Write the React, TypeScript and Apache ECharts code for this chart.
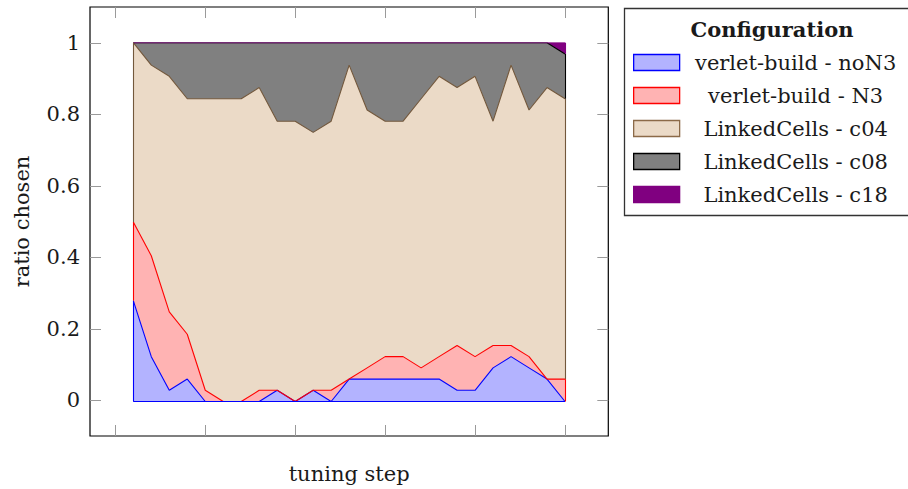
import React, { useEffect, useRef } from "react";
import * as echarts from "echarts";

const steps = ["1", "2", "3", "4", "5", "6", "7", "8", "9", "10", "11", "12", "13", "14", "15", "16", "17", "18", "19", "20", "21", "22", "23", "24", "25"];
const xTicks = [0, 5, 10, 15, 20, 25];
const yTicks = [0, 0.2, 0.4, 0.6, 0.8, 1];

const seriesNames = [
  "verlet-build - noN3",
  "verlet-build - N3",
  "LinkedCells - c04",
  "LinkedCells - c08",
  "LinkedCells - c18",
];

const noN3 = [0.28125, 0.125, 0.03125, 0.0625, 0, 0, 0, 0, 0.03125, 0, 0.03125, 0, 0.0625, 0.0625, 0.0625, 0.0625, 0.0625, 0.0625, 0.03125, 0.03125, 0.09375, 0.125, 0.09375, 0.0625, 0];
const n3 = [0.21875, 0.28125, 0.21875, 0.125, 0.03125, 0, 0, 0.03125, 0, 0, 0, 0.03125, 0, 0.03125, 0.0625, 0.0625, 0.03125, 0.0625, 0.125, 0.09375, 0.0625, 0.03125, 0.03125, 0, 0.0625];
const c04 = [0.5, 0.53125, 0.65625, 0.65625, 0.8125, 0.84375, 0.84375, 0.84375, 0.75, 0.78125, 0.71875, 0.75, 0.875, 0.71875, 0.65625, 0.65625, 0.75, 0.78125, 0.71875, 0.78125, 0.625, 0.78125, 0.6875, 0.8125, 0.78125];
const c08 = [0, 0.0625, 0.09375, 0.15625, 0.15625, 0.15625, 0.15625, 0.125, 0.21875, 0.21875, 0.25, 0.21875, 0.0625, 0.1875, 0.21875, 0.21875, 0.15625, 0.09375, 0.125, 0.09375, 0.21875, 0.0625, 0.1875, 0.125, 0.125];
const c18 = [0, 0, 0, 0, 0, 0, 0, 0, 0, 0, 0, 0, 0, 0, 0, 0, 0, 0, 0, 0, 0, 0, 0, 0, 0.03125];

const allData = [noN3, n3, c04, c08, c18];
const fillColors = ["#b3b3ff", "#ffb3b3", "#ebdac7", "#808080", "#800080"];
const lineColors = ["#0000ff", "#ff0000", "#73583c", "#000000", "#800080"];
const legendBorders = ["#0000ff", "#ff0000", "#8c6a48", "#000000", "#800080"];

const FONT = "DejaVu Serif";
const TEXT = "#1a1a1a";

export default function App() {
  const ref = useRef<HTMLDivElement>(null);

  useEffect(() => {
    document.body.style.margin = "0";
    if (!ref.current) return;
    const chart = echarts.init(ref.current, undefined, { renderer: "svg" });

    const n = steps.length;
    const cumBelow: number[][] = [];
    const running = new Array(n).fill(0);
    allData.forEach((arr) => {
      cumBelow.push(running.slice());
      for (let i = 0; i < n; i++) running[i] += arr[i];
    });

    const series = allData.map((arr, si) => {
      const edges: any[] = [];
      [0, n - 1].forEach((idx) => {
        const lo = cumBelow[si][idx];
        const hi = lo + arr[idx];
        if (hi - lo > 1e-9) {
          edges.push([
            { coord: [idx, lo] },
            { coord: [idx, hi] },
          ]);
        }
      });
      if (si === 0) {
        edges.push([
          { coord: [0, 0] },
          { coord: [n - 1, 0] },
        ]);
      }
      return {
        name: seriesNames[si],
        type: "line",
        stack: "total",
        xAxisIndex: 2,
        yAxisIndex: 2,
        data: arr,
        symbol: "none",
        lineStyle: { color: lineColors[si], width: 1.1 },
        itemStyle: { color: fillColors[si] },
        areaStyle: { color: fillColors[si], opacity: 1 },
        markLine: {
          silent: true,
          symbol: "none",
          label: { show: false },
          lineStyle: { color: lineColors[si], width: 1.1, type: "solid" },
          data: edges,
        },
      };
    });

    const tickStyle = { color: "#9a9a9a", width: 1 };
    const noLine = { show: false, onZero: false };

    chart.setOption({
      animation: false,
      backgroundColor: "#ffffff",
      grid: [
        {
          left: 90,
          right: 299.7,
          top: 7,
          bottom: 51.5,
          show: true,
          borderColor: "#000000",
          borderWidth: 1.2,
          backgroundColor: "transparent",
        },
        {
          left: 133.3,
          right: 343,
          top: 42.7,
          bottom: 87.5,
          show: false,
        },
      ],
      xAxis: [
        {
          gridIndex: 0,
          type: "value",
          min: -1.4,
          max: 27.4,
          position: "bottom",
          axisLine: noLine,
          splitLine: { show: false },
          axisTick: { show: true, inside: true, length: 11, lineStyle: tickStyle, customValues: xTicks },
          axisLabel: { show: false },
          name: "tuning step",
          nameLocation: "middle",
          nameGap: 27,
          nameTextStyle: { fontFamily: FONT, fontSize: 21, color: TEXT },
        },
        {
          gridIndex: 0,
          type: "value",
          min: -1.4,
          max: 27.4,
          position: "top",
          axisLine: noLine,
          splitLine: { show: false },
          axisTick: { show: true, inside: true, length: 11, lineStyle: tickStyle, customValues: xTicks },
          axisLabel: { show: false },
        },
        {
          gridIndex: 1,
          type: "category",
          data: steps,
          boundaryGap: false,
          show: false,
        },
      ],
      yAxis: [
        {
          gridIndex: 0,
          type: "value",
          min: -0.1,
          max: 1.1,
          position: "left",
          axisLine: noLine,
          splitLine: { show: false },
          axisTick: { show: true, inside: true, length: 11, lineStyle: tickStyle, customValues: yTicks },
          axisLabel: {
            show: true,
            customValues: yTicks,
            margin: 10,
            fontFamily: FONT,
            fontSize: 21,
            color: TEXT,
            formatter: (v: number) => String(v),
          },
          name: "ratio chosen",
          nameLocation: "middle",
          nameGap: 58,
          nameTextStyle: { fontFamily: FONT, fontSize: 21, color: TEXT },
        },
        {
          gridIndex: 0,
          type: "value",
          min: -0.1,
          max: 1.1,
          position: "right",
          axisLine: noLine,
          splitLine: { show: false },
          axisTick: { show: true, inside: true, length: 11, lineStyle: tickStyle, customValues: yTicks },
          axisLabel: { show: false },
        },
        {
          gridIndex: 1,
          type: "value",
          min: 0,
          max: 1,
          show: false,
        },
      ],
      legend: {
        orient: "vertical",
        left: 633,
        top: 52,
        padding: 0,
        itemWidth: 46,
        itemHeight: 16,
        itemGap: 12,
        icon: "rect",
        selectedMode: false,
        formatter: (name: string) => `{t|${name}}`,
        textStyle: {
          rich: {
            t: {
              width: 222,
              align: "center",
              fontFamily: FONT,
              fontSize: 21,
              lineHeight: 16,
              color: TEXT,
            },
          },
        },
        data: seriesNames.map((nm, i) => ({
          name: nm,
          itemStyle: { color: fillColors[i], borderColor: legendBorders[i], borderWidth: 1.3 },
        })),
      },
      graphic: [
        {
          type: "rect",
          z: 0,
          shape: { x: 624.5, y: 8.5, width: 330, height: 207 },
          style: { fill: "#ffffff", stroke: "#333333", lineWidth: 1.3 },
        },
        {
          type: "text",
          z: 10,
          x: 772,
          y: 29,
          style: {
            text: "Configuration",
            fontFamily: FONT,
            fontWeight: "bold",
            fontSize: 21,
            fill: TEXT,
            textAlign: "center",
            textVerticalAlign: "middle",
          },
        },
      ],
      series,
    });

    return () => chart.dispose();
  }, []);

  return (
    <div
      ref={ref}
      style={{ position: "absolute", left: 0, top: 0, width: 908, height: 489 }}
    />
  );
}
